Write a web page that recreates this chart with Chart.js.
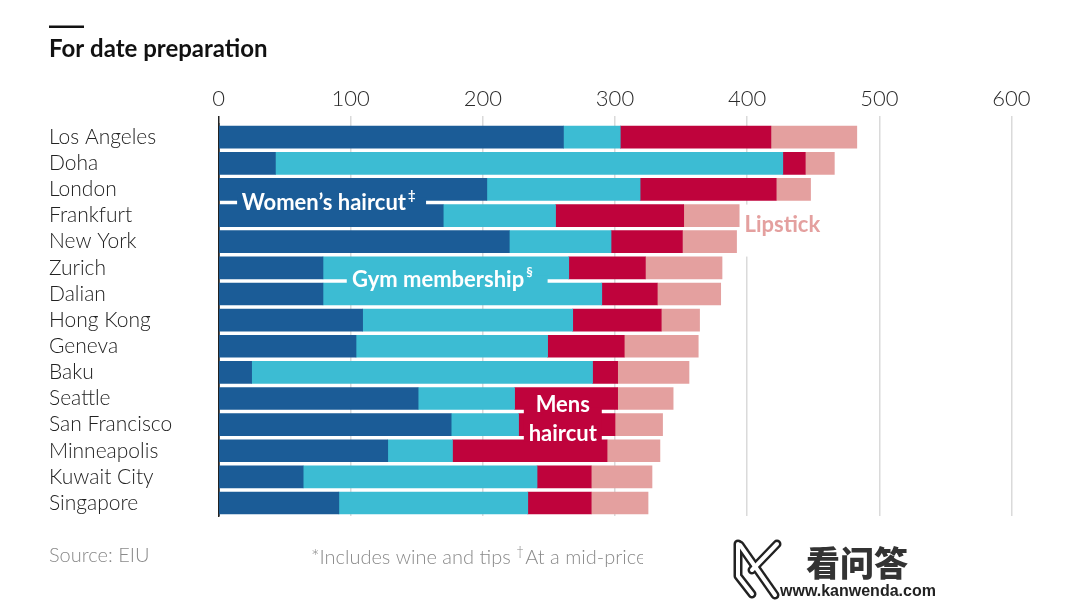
<!DOCTYPE html>
<html><head><meta charset="utf-8">
<script src="https://cdn.jsdelivr.net/npm/chart.js@4.4.1/dist/chart.umd.min.js"></script>
<style>html,body{margin:0;padding:0;background:#fff;overflow:hidden}canvas{display:block}</style>
</head><body>
<canvas id="c" width="1080" height="602"></canvas>
<script>
// ---- data ----
const cities = ['Los Angeles','Doha','London','Frankfurt','New York','Zurich','Dalian','Hong Kong','Geneva','Baku','Seattle','San Francisco','Minneapolis','Kuwait City','Singapore'];
const womensHaircut = [261, 43, 203, 170, 220, 79, 79, 109, 104, 25, 151, 176, 128, 64, 91];
const gymMembership = [43, 384, 116, 85, 77, 186, 211, 159, 145, 258, 73, 51, 49, 177, 143];
const mensHaircut   = [114, 17, 103, 97, 54, 58, 42, 67, 58, 19, 78, 73, 117, 41, 48];
const lipstick      = [65, 22, 26, 42, 41, 58, 48, 29, 56, 54, 42, 36, 40, 46, 43];
const tickValues = [0, 100, 200, 300, 400, 500, 600];
const titleText = 'For date preparation';
const sourceText = 'Source: EIU';
const noteA = '*Includes wine and tips ';
const noteB = 'At a mid-price';

const C = { dark:'#1b5c97', cyan:'#3cbcd3', red:'#bf033c', pink:'#e4a09f' };
const FONT = 'Lato, "Open Sans", sans-serif';

function label(ctx, text, sup, x, y, size, color, align){
  ctx.font = '700 ' + size + 'px ' + FONT;
  ctx.fillStyle = color;
  ctx.textBaseline = 'middle';
  const w = ctx.measureText(text).width;
  let sw = 0;
  if (sup){ ctx.font = '700 ' + Math.round(size*0.6) + 'px ' + FONT; sw = ctx.measureText(sup).width + 2; }
  let x0 = align === 'center' ? x - (w + sw)/2 : x;
  ctx.font = '700 ' + size + 'px ' + FONT;
  ctx.textAlign = 'left';
  ctx.fillText(text, x0, y);
  if (sup){
    ctx.font = '700 ' + Math.round(size*0.6) + 'px ' + FONT;
    ctx.fillText(sup, x0 + w + 2, y - size*0.32);
  }
}

const overlay = {
  id: 'overlay',
  afterDraw(chart){
    const ctx = chart.ctx, xs = chart.scales.x, ys = chart.scales.y;
    const X = v => xs.getPixelForValue(v), Y = i => ys.getPixelForValue(i);
    ctx.save();
    // top rule
    ctx.fillStyle = '#111';
    ctx.fillRect(49, 25.5, 35, 2.5);

    // Women's haircut label (gap between London & Frankfurt)
    let g = (Y(2) + Y(3)) / 2;
    ctx.fillStyle = C.dark;
    ctx.fillRect(X(14), g - 5, X(157) - X(14), 10);
    label(ctx, 'Women\u2019s haircut', '\u2021', X(17.5), g + 0.5, 22, '#fff', 'left');

    // Gym membership label (gap between Zurich & Dalian)
    g = (Y(5) + Y(6)) / 2;
    ctx.fillStyle = C.cyan;
    ctx.fillRect(X(97), g - 5, X(249) - X(97), 10);
    label(ctx, 'Gym membership', '\u00a7', X(101), g - 1, 22, '#fff', 'left');

    // Mens haircut label
    ctx.fillStyle = C.red;
    ctx.fillRect(X(231), Y(10) + 9, X(290) - X(231), Y(12) - Y(10) - 18);
    const g1 = (Y(10) + Y(11)) / 2, g2 = (Y(11) + Y(12)) / 2;
    label(ctx, 'Mens', null, X(260.5), g1 - 6.5, 22, '#fff', 'center');
    label(ctx, 'haircut', null, X(260.5), g2 - 4, 22, '#fff', 'center');

    // Lipstick label
    ctx.fillStyle = '#fff';
    ctx.fillRect(X(395.5), Y(3) - 11, X(463) - X(395.5), 52);
    label(ctx, 'Lipstick', null, X(398), Y(3) + 9.5, 22, C.pink, 'left');

    // footer
    ctx.textBaseline = 'middle';
    ctx.textAlign = 'left';
    ctx.fillStyle = '#8a8a8a';
    ctx.font = '300 20px ' + FONT;
    ctx.fillText(sourceText, 49, 556);
    ctx.save();
    ctx.beginPath(); ctx.rect(300, 530, 343, 50); ctx.clip();
    let x = 311;
    ctx.fillText(noteA, x, 558);
    x += ctx.measureText(noteA).width;
    ctx.font = '300 14px ' + FONT;
    ctx.fillText('\u2020', x, 551);
    x += ctx.measureText('\u2020').width + 1;
    ctx.font = '300 20px ' + FONT;
    ctx.fillText(noteB, x, 558);
    ctx.restore();

    // watermark
    ctx.lineCap = 'round'; ctx.lineJoin = 'round';
    const kPaths = [[[738,544],[738,576],[752,594]], [[740,545],[775,595]], [[777,544],[752,570]]];
    ctx.strokeStyle = '#222'; ctx.lineWidth = 9;
    kPaths.forEach(p => { ctx.beginPath(); ctx.moveTo(p[0][0], p[0][1]); p.slice(1).forEach(q => ctx.lineTo(q[0], q[1])); ctx.stroke(); });
    ctx.strokeStyle = '#fff'; ctx.lineWidth = 4;
    kPaths.forEach(p => { ctx.beginPath(); ctx.moveTo(p[0][0], p[0][1]); p.slice(1).forEach(q => ctx.lineTo(q[0], q[1])); ctx.stroke(); });
    ctx.fillStyle = '#333';
    ctx.font = '900 34px "Noto Sans CJK SC", sans-serif';
    ctx.textBaseline = 'alphabetic';
    ctx.fillText('\u770b\u95ee\u7b54', 806, 576);
    ctx.fillStyle = '#222';
    ctx.font = '700 16px "Liberation Sans", Arial, sans-serif';
    ctx.fillText('www.kanwenda.com', 780, 596);
    ctx.restore();
  }
};

const ds = (label, data, color) => ({ label, data, backgroundColor: color, borderWidth: 0, barThickness: 22 });

new Chart(document.getElementById('c'), {
  type: 'bar',
  data: {
    labels: cities,
    datasets: [
      ds('Women\u2019s haircut', womensHaircut, C.dark),
      ds('Gym membership', gymMembership, C.cyan),
      ds('Mens haircut', mensHaircut, C.red),
      ds('Lipstick', lipstick, C.pink)
    ]
  },
  options: {
    indexAxis: 'y',
    responsive: false,
    animation: false,
    devicePixelRatio: 1,
    layout: { padding: { left: 49, right: 68.6, top: 0, bottom: 85.9 } },
    plugins: {
      legend: { display: false },
      tooltip: { enabled: false },
      title: {
        display: true, text: titleText, align: 'start', color: '#111',
        font: { family: FONT, size: 24, weight: '700', lineHeight: 1.2 },
        padding: { top: 35, bottom: 0 }
      }
    },
    scales: {
      x: {
        type: 'linear', position: 'top', stacked: true, min: 0, max: 600,
        afterBuildTicks: s => { s.ticks = tickValues.map(v => ({ value: v })); },
        afterFit: s => { s.height = 124.1 - 63.8; },
        grid: {
          color: c => (c.tick && c.tick.value === 0) ? '#222' : '#dadada',
          lineWidth: 1.5, tickLength: 8, drawTicks: true
        },
        border: { display: false },
        ticks: { color: '#2a2a2a', padding: 4, font: { family: FONT, size: 22, weight: '300' } }
      },
      y: {
        type: 'category', stacked: true, z: 1,
        afterFit: s => { s.width = 218.6 - 49; },
        grid: { display: false },
        border: { display: true, color: '#222', width: 1.5 },
        ticks: { crossAlign: 'far', autoSkip: false, color: '#222', font: { family: FONT, size: 21, weight: '300' } }
      }
    }
  },
  plugins: [overlay]
});
</script>
</body></html>
